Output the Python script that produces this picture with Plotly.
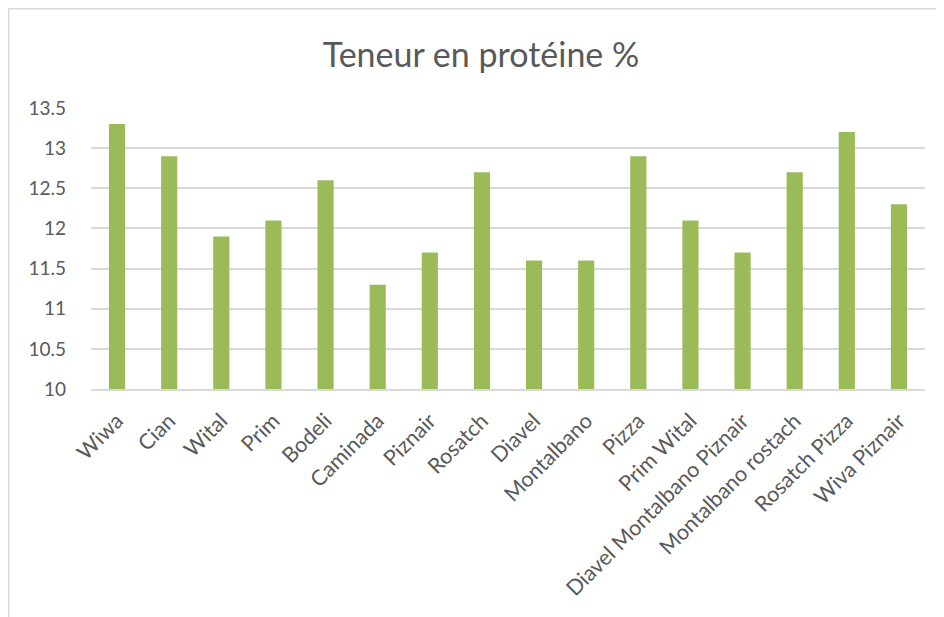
import plotly.graph_objects as go

categories = ["Wiwa", "Cian", "Wital", "Prim", "Bodeli", "Caminada", "Piznair", "Rosatch",
              "Diavel", "Montalbano", "Pizza", "Prim Wital", "Diavel Montalbano Piznair",
              "Montalbano rostach", "Rosatch Pizza", "Wiva Piznair"]
values = [13.3, 12.9, 11.9, 12.1, 12.6, 11.3, 11.7, 12.7, 11.6, 11.6, 12.9, 12.1, 11.7, 12.7, 13.2, 12.3]
y_ticks = [10, 10.5, 11, 11.5, 12, 12.5, 13, 13.5]
y_tick_labels = ["10", "10.5", "11", "11.5", "12", "12.5", "13", "13.5"]
baseline = 10

W, H = 944, 617
ml, mr, mt, mb = 83, 27, 100, 236
pw, ph = W - ml - mr, H - mt - mb

fig = go.Figure(go.Bar(x=categories, y=[v - baseline for v in values], base=baseline,
                       customdata=values,
                       hovertemplate="%{x}: %{customdata}<extra></extra>",
                       marker=dict(color="#9BBB59", line=dict(width=0))))

font_family = "Lato, Open Sans, sans-serif"
fig.update_layout(
    width=W, height=H,
    margin=dict(l=ml, r=mr, t=mt, b=mb, autoexpand=False),
    paper_bgcolor="white", plot_bgcolor="white",
    bargap=0.69,
    showlegend=False,
    font=dict(family=font_family, color="#595959", size=19),
    title=dict(text="Teneur en protéine %", x=473 / W, xref="container", xanchor="center",
               y=1 - 47 / H, yref="container", yanchor="middle",
               font=dict(size=34, color="#595959", family=font_family)),
    xaxis=dict(tickangle=-45, showgrid=False, showline=True, linecolor="#D9D9D9", linewidth=1.5,
               tickfont=dict(size=21.5, color="#595959"), ticks="", zeroline=False, automargin=False,
               ticklabelstandoff=9, ticklabelshift=0),
    yaxis=dict(range=[10, 13.5], tickvals=y_ticks, ticktext=y_tick_labels, showgrid=True,
               gridcolor="#D9D9D9", gridwidth=1.5, showline=False, zeroline=False,
               ticklabelstandoff=24, tickfont=dict(size=19, color="#595959"), automargin=False),
)

# chart-area frame (light gray), like the Excel chart border
fig.add_shape(type="rect", xref="paper", yref="paper",
              x0=(0.75 - ml) / pw, x1=(W - 0.75 - ml) / pw,
              y0=(-mb + 0.75) / ph, y1=(ph + mt - 0.75) / ph,
              line=dict(color="#D9D9D9", width=1.5), layer="below")

fig.write_html("out.html")
